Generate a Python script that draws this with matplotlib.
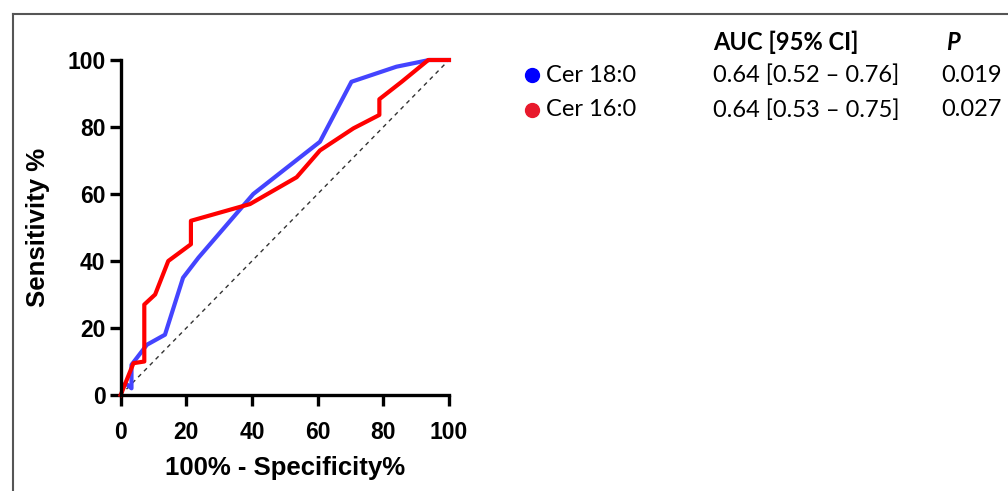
import matplotlib
matplotlib.use('Agg')
import matplotlib.pyplot as plt
from matplotlib.lines import Line2D

# ROC curve points (100% - specificity, sensitivity)
cer18_x = [1.5, 3.3, 3.3, 8, 13.5, 19, 23.7, 40.4, 60.7, 70.3, 84, 94, 100]
cer18_y = [3.5, 2, 9, 15, 18, 35, 41, 60, 75.6, 93.5, 98, 100, 100]
cer16_x = [0, 3.9, 7.2, 7.2, 10.5, 14.5, 21.4, 21.4, 39.4, 53.6, 60.7, 70.9, 78.8, 78.8, 85.6, 93.7, 100]
cer16_y = [0, 9.5, 10, 27, 30, 40, 45, 52, 57, 65, 73, 79.6, 83.6, 88.3, 93.5, 100, 100]

names = ['Cer 18:0', 'Cer 16:0']
aucs = ['0.64 [0.52 \u2013 0.76]', '0.64 [0.53 \u2013 0.75]']
pvals = ['0.019', '0.027']
dot_colors = ['#0000ff', '#e8192c']

fig = plt.figure(figsize=(10.08, 4.91), dpi=100)
ax = fig.add_axes([0.1197, 0.1955, 0.3257, 0.6823])

ax.plot([0, 100], [0, 100], color='#333333', lw=1.0, ls=(0, (3, 3)), clip_on=False)
ax.plot(cer18_x, cer18_y, color='#4444ff', lw=3.0, clip_on=False)
ax.plot(cer16_x, cer16_y, color='#ff0000', lw=3.0, clip_on=False)

ax.set_xlim(0, 100)
ax.set_ylim(0, 100)
ax.set_xticks(range(0, 101, 20))
ax.set_yticks(range(0, 101, 20))
for s in ['top', 'right']:
    ax.spines[s].set_visible(False)
for s in ['left', 'bottom']:
    ax.spines[s].set_linewidth(2.4)
ax.tick_params(width=2.4, length=8, labelsize=16.5, pad=3)
ax.tick_params(axis='x', pad=11)
for lab in ax.get_xticklabels() + ax.get_yticklabels():
    lab.set_fontfamily('Liberation Sans')
    lab.set_fontweight('bold')
ax.set_xlabel('100% - Specificity%', fontsize=18.5, fontweight='bold',
              family='Liberation Sans', labelpad=8)
ax.set_ylabel('Sensitivity %', fontsize=18.5, fontweight='bold',
              family='Liberation Sans', labelpad=12)

# table-style legend on the right
fam = 'Lato'
fs = 17
fig.text(713 / 1008, 1 - 42 / 491, 'AUC [95% CI]', fontsize=fs, fontweight='bold',
         family=fam, va='center', ha='left')
fig.text(946 / 1008, 1 - 42 / 491, 'P', fontsize=fs, fontweight='bold', style='italic',
         family=fam, va='center', ha='left')
rows_y = [75, 110]
for i in range(2):
    yy = 1 - rows_y[i] / 491
    fig.add_artist(Line2D([532 / 1008], [yy], marker='o', ms=10, color=dot_colors[i],
                          transform=fig.transFigure))
    fig.text(546 / 1008, yy, names[i], fontsize=fs, family=fam, va='center', ha='left')
    fig.text(713 / 1008, yy, aucs[i], fontsize=fs, family=fam, va='center', ha='left')
    fig.text(941 / 1008, yy, pvals[i], fontsize=fs, family=fam, va='center', ha='left')

# frame around the panel (cut off at right and bottom)
fig.add_artist(Line2D([13 / 1008, 1], [1 - 14 / 491, 1 - 14 / 491], color='#555555', lw=1.5,
                      transform=fig.transFigure))
fig.add_artist(Line2D([13 / 1008, 13 / 1008], [0, 1 - 14 / 491], color='#555555', lw=1.5,
                      transform=fig.transFigure))

fig.savefig('out.png', dpi=100)
